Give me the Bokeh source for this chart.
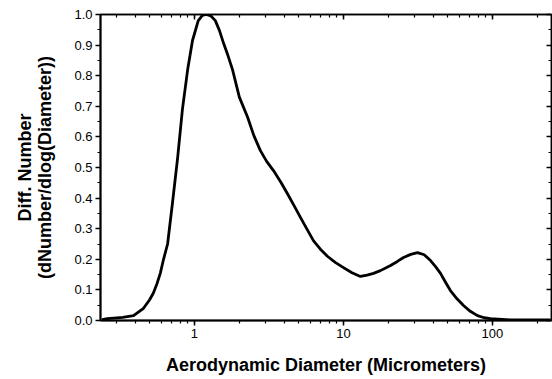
from bokeh.plotting import figure
from bokeh.models import (Range1d, LogAxis, LinearAxis, LogTicker,
                          SingleIntervalTicker, PrintfTickFormatter,
                          CustomJSTickFormatter)
from bokeh.embed import file_html
from bokeh.resources import INLINE

# Aerodynamic particle size distribution (normalised number distribution)
diameter_um = [0.24, 0.26, 0.33, 0.39, 0.455, 0.50, 0.53, 0.56, 0.59, 0.62,
               0.66, 0.71, 0.77, 0.83, 0.90, 0.97, 1.06, 1.13, 1.20, 1.29,
               1.38, 1.47, 1.57, 1.68, 1.80, 2.0, 2.27, 2.50, 2.77, 3.05,
               3.39, 3.8, 4.2, 4.65, 5.14, 5.7, 6.3, 7.0, 7.8, 8.8,
               10.0, 11.4, 13.0, 14.4, 15.9, 17.7, 20.7, 23.0, 25.3, 28.3,
               31.4, 34.8, 38.4, 41.5, 44.8, 48.3, 52.2, 57.8, 63.9, 71.0,
               79.3, 88.0, 97.0, 132, 245]
diff_number = [0.003, 0.006, 0.010, 0.016, 0.04, 0.068, 0.09, 0.12, 0.155, 0.20,
               0.25, 0.38, 0.53, 0.69, 0.82, 0.915, 0.98, 0.997, 1.0, 0.995,
               0.98, 0.948, 0.905, 0.865, 0.82, 0.73, 0.665, 0.605, 0.555, 0.52,
               0.49, 0.452, 0.415, 0.376, 0.337, 0.298, 0.26, 0.233, 0.21, 0.19,
               0.173, 0.156, 0.144, 0.148, 0.154, 0.163, 0.18, 0.193, 0.206, 0.216,
               0.222, 0.215, 0.196, 0.176, 0.154, 0.126, 0.098, 0.071, 0.049, 0.030,
               0.016, 0.009, 0.006, 0.002, 0.002]

x_title = "Aerodynamic Diameter (Micrometers)"
y_title = "Diff. Number\n(dNumber/dlog(Diameter))"

FONT = "Liberation Sans"

p = figure(width=552, height=379, x_axis_type="log",
           x_range=Range1d(0.234, 249), y_range=Range1d(0, 1.0),
           output_backend="svg", toolbar_location=None,
           min_border_left=100, min_border_right=1,
           min_border_top=14, min_border_bottom=59)
p.background_fill_color = "white"
p.border_fill_color = "white"
p.grid.visible = False
p.outline_line_color = "black"
p.outline_line_width = 1.5

p.line(diameter_um, diff_number, line_color="black", line_width=2.8,
       line_join="round")

# bottom axis
xa = p.xaxis[0]
xa.ticker = LogTicker(num_minor_ticks=10)
xa.formatter = CustomJSTickFormatter(code="return String(tick);")
xa.axis_label = x_title
xa.axis_label_text_font = FONT
xa.axis_label_text_font_style = "bold"
xa.axis_label_text_font_size = "18px"
xa.axis_label_text_color = "black"
xa.axis_label_standoff = 14
xa.major_label_text_font = FONT
xa.major_label_text_font_size = "13px"
xa.major_label_text_color = "black"
xa.major_label_standoff = 3
xa.axis_line_width = 2
xa.major_tick_in = 0
xa.major_tick_out = 5
xa.minor_tick_in = 0
xa.minor_tick_out = 3
xa.major_tick_line_width = 1.5
xa.minor_tick_line_width = 1.2

# left axis
ya = p.yaxis[0]
ya.ticker = SingleIntervalTicker(interval=0.1, num_minor_ticks=2)
ya.formatter = PrintfTickFormatter(format="%.1f")
ya.axis_label = y_title
ya.axis_label_text_font = FONT
ya.axis_label_text_font_style = "bold"
ya.axis_label_text_font_size = "18px"
ya.axis_label_text_line_height = 1.0
ya.axis_label_text_color = "black"
ya.axis_label_standoff = 16
ya.major_label_text_font = FONT
ya.major_label_text_font_size = "13px"
ya.major_label_text_color = "black"
ya.major_label_standoff = 3
ya.axis_line_width = 2
ya.major_tick_in = 0
ya.major_tick_out = 5
ya.minor_tick_in = 0
ya.minor_tick_out = 3
ya.major_tick_line_width = 1.5
ya.minor_tick_line_width = 1.2

# mirrored tick marks on top and right (labels hidden)
top = LogAxis(ticker=LogTicker(num_minor_ticks=10),
              major_label_text_font_size="2px", major_label_text_alpha=0,
              major_label_standoff=0,
              major_tick_in=5, major_tick_out=0, minor_tick_in=3, minor_tick_out=0,
              axis_line_width=1.5, major_tick_line_width=1.5, minor_tick_line_width=1.2)
p.add_layout(top, "above")
right = LinearAxis(ticker=SingleIntervalTicker(interval=0.1, num_minor_ticks=2),
                   major_label_text_font_size="2px", major_label_text_alpha=0,
                   major_label_standoff=0,
                   major_tick_in=5, major_tick_out=0, minor_tick_in=3, minor_tick_out=0,
                   axis_line_width=1.5, major_tick_line_width=1.5, minor_tick_line_width=1.2)
p.add_layout(right, "right")

open("out.html", "w").write(file_html(p, INLINE))
